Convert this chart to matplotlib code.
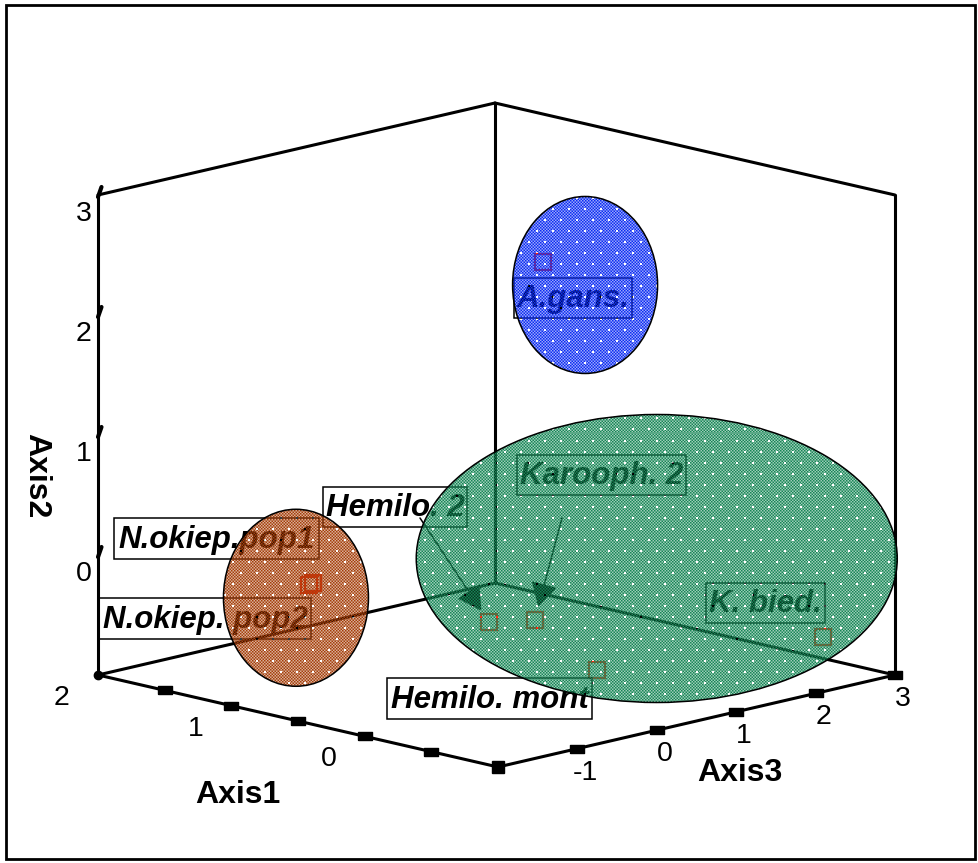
import numpy as np
import matplotlib
matplotlib.use('Agg')
import matplotlib.pyplot as plt
import matplotlib.colors as mcolors
from matplotlib.patches import Ellipse, Rectangle

plt.rcParams['font.family'] = ['Liberation Sans', 'DejaVu Sans']

# ---------------- data ----------------
groups = ['A.gans.', 'N.okiep.pop1', 'N.okiep. pop2', 'Hemilo. 2',
          'Karooph. 2', 'Hemilo. mont', 'K. bied.']
axis1 = [0.38, 1.12, 1.10, 0.02, -0.12, -0.58, -0.70]
axis2 = [2.41, -0.20, -0.20, -0.30, -0.30, -0.60, -0.70]
axis3 = [0.88, -0.77, -0.85, -0.40, -0.06, -0.05, 2.60]

# cluster ellipses (centre in axis coordinates)
cluster_names = ['blue', 'brown', 'green']
cluster_a1 = [0.05, 0.95, -0.16]
cluster_a2 = [2.31, -0.20, 0.00]
cluster_a3 = [0.86, -1.27, 1.41]

axis1_range = (-1, 2)
axis2_range = (-1, 3)
axis3_range = (-2, 3)
axis1_ticks = [2, 1.5, 1, 0.5, 0, -0.5, -1]
axis1_labels = ['2', '', '1', '', '0', '', '']
axis2_ticks = [0, 1, 2, 3]
axis3_ticks = [-2, -1, 0, 1, 2, 3]
axis3_labels = ['', '-1', '0', '1', '2', '3']

# ---------------- layout ----------------
W, H = 979, 863
ORIGIN = np.array([498.0, 767.0])          # screen pos of (a1=-1, a2=-1, a3=-2)
E1 = np.array([-400 / 3, -92 / 3])          # per unit of Axis1
E2 = np.array([0.0, -120.0])                # per unit of Axis2
E3 = np.array([397 / 5, -92 / 5])           # per unit of Axis3


def proj(a1, a2, a3):
    p = (ORIGIN[:, None] * 1.0
         + E1[:, None] * (np.atleast_1d(np.asarray(a1, float)) - axis1_range[0])
         + E2[:, None] * (np.atleast_1d(np.asarray(a2, float)) - axis2_range[0])
         + E3[:, None] * (np.atleast_1d(np.asarray(a3, float)) - axis3_range[0]))
    return p[0], p[1]


cluster_colors = ['#0c2cf2', '#a43e0a', '#178656']
cluster_sizes = [(145, 177), (145, 177), (481, 288)]

label_boxes = {
    'A.gans.': (514, 278, 632, 318),
    'N.okiep.pop1': (114, 518, 319, 559),
    'N.okiep. pop2': (99, 598, 311, 639),
    'Hemilo. 2': (323, 487, 467, 527),
    'Karooph. 2': (517, 455, 686, 495),
    'Hemilo. mont': (387, 678, 592, 719),
    'K. bied.': (706, 583, 825, 623),
}
leaders = {'Hemilo. 2': (420, 518), 'Karooph. 2': (562, 518)}

fig = plt.figure(figsize=(W / 100, H / 100), dpi=100)
ax = fig.add_axes([0, 0, 1, 1])
ax.set_xlim(0, W)
ax.set_ylim(H, 0)
ax.axis('off')

LW = 2.2
# outer frame
ax.add_patch(Rectangle((6.5, 5.5), 969, 853, fill=False, lw=2.0, ec='black', zorder=1))

lo1, hi1 = axis1_range
lo2, hi2 = axis2_range
lo3, hi3 = axis3_range
edges = [
    ((hi1, lo2, lo3), (hi1, lo2, hi3)),
    ((hi1, lo2, hi3), (lo1, lo2, hi3)),
    ((hi1, lo2, lo3), (lo1, lo2, lo3)),
    ((lo1, lo2, lo3), (lo1, lo2, hi3)),
    ((hi1, lo2, lo3), (hi1, hi2, lo3)),
    ((hi1, lo2, hi3), (hi1, hi2, hi3)),
    ((lo1, lo2, hi3), (lo1, hi2, hi3)),
    ((hi1, hi2, lo3), (hi1, hi2, hi3)),
    ((hi1, hi2, hi3), (lo1, hi2, hi3)),
]
for p, q in edges:
    xs, ys = proj([p[0], q[0]], [p[1], q[1]], [p[2], q[2]])
    ax.plot(xs, ys, color='black', lw=LW, solid_capstyle='round', zorder=2)

tick_marker = [(-1, -0.55), (1, -0.55), (1, 0.55), (-1, 0.55), (-1, -0.55)]
# Axis1 ticks
tx, ty = proj(axis1_ticks, [lo2] * len(axis1_ticks), [lo3] * len(axis1_ticks))
ax.plot(tx[1:-1], ty[1:-1], ls='none', marker=tick_marker, ms=10, color='black', zorder=3)
for x, y, lab in zip(tx, ty, axis1_labels):
    if lab:
        ax.text(x - 36, y + 23, lab, fontsize=20.5, ha='center', va='center')
# Axis3 ticks
tx3, ty3 = proj([lo1] * len(axis3_ticks), [lo2] * len(axis3_ticks), axis3_ticks)
ax.plot(tx3[1:], ty3[1:], ls='none', marker=tick_marker, ms=10, color='black', zorder=3)
ax.plot(tx3[:1], ty3[:1], ls='none', marker='s', ms=9, color='black', zorder=3)
for x, y, lab in zip(tx3, ty3, axis3_labels):
    if lab:
        ax.text(x + 8, y + 24, lab, fontsize=20.5, ha='center', va='center')
# left corner dot
lx, ly = proj(hi1, lo2, lo3)
ax.plot(lx, ly, ls='none', marker='o', ms=6, color='black', zorder=3)
# Axis2 ticks
tx2, ty2 = proj([hi1] * len(axis2_ticks), axis2_ticks, [lo3] * len(axis2_ticks))
for x, y, t in zip(tx2, ty2, axis2_ticks):
    ax.plot([x, x + 3.5], [y + 2, y - 8], color='black', lw=3.0, solid_capstyle='round', zorder=3)
    ax.text(x - 14, y + 19, str(t), fontsize=20.5, ha='center', va='center')

# axis titles
ax.text(238, 795, 'Axis1', fontsize=23, fontweight='bold', ha='center', va='center')
ax.text(740, 773, 'Axis3', fontsize=23, fontweight='bold', ha='center', va='center')
ax.text(36, 476, 'Axis2', fontsize=23, fontweight='bold', ha='center', va='center', rotation=-90)

# points
px, py = proj(axis1, axis2, axis3)
ax.plot(px, py, ls='none', marker='s', ms=11.5, mfc='none', mec='#ff2a10', mew=1.6, zorder=4)

# labels
for name in groups:
    x0, y0, x1, y1 = label_boxes[name]
    ax.add_patch(Rectangle((x0, y0), x1 - x0, y1 - y0, fill=False, ec='black', lw=1.1, zorder=5))
    ax.text((x0 + x1) / 2, y1 - 11, name, fontsize=22.5, fontweight='bold', style='italic',
            ha='center', va='baseline', zorder=5)

for name, (sx, sy) in leaders.items():
    i = groups.index(name)
    ax.annotate('', xy=(px[i], py[i]), xytext=(sx, sy),
                arrowprops=dict(arrowstyle='-|>,head_length=0.75,head_width=0.42',
                                mutation_scale=20, lw=1.1, color='black',
                                shrinkA=0, shrinkB=10), zorder=5)

# checker pattern fills for ellipses
ss = 2
yy, xx = np.mgrid[0:H * ss, 0:W * ss]
chk = ((xx // 3 + yy // 3) % 2 == 0).astype(float)
pxl = xx // ss
pyl = yy // ss
row = pyl // 11
dots = (((pxl + (row % 2) * 8) % 16) < 2) & ((pyl % 11) < 2)
base = np.where(chk > 0, 1.0, 0.42)
base[dots] = 0.0
alpha = base.reshape(H, ss, W, ss).mean(axis=(1, 3))

cx, cy = proj(cluster_a1, cluster_a2, cluster_a3)
for i in range(len(cluster_names)):
    w, h = cluster_sizes[i]
    img = np.zeros((H, W, 4))
    img[..., :3] = mcolors.to_rgb(cluster_colors[i])
    img[..., 3] = alpha
    im = ax.imshow(img, extent=(0, W, H, 0), origin='upper', interpolation='nearest',
                   aspect='auto', zorder=6)
    ell = Ellipse((cx[i], cy[i]), w, h, fill=False, ec='black', lw=1.1, zorder=7)
    ax.add_patch(ell)
    im.set_clip_path(ell)

ax.set_xlim(0, W)
ax.set_ylim(H, 0)
fig.savefig('out.png', dpi=100)
